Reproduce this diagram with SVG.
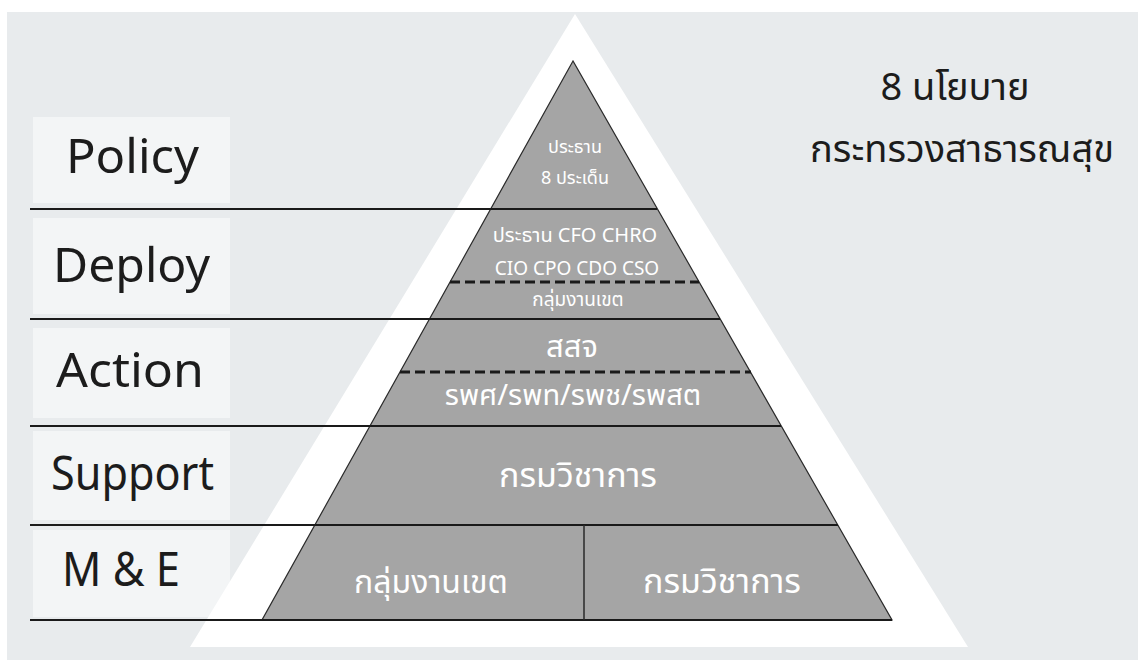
<svg xmlns="http://www.w3.org/2000/svg" width="1138" height="660" viewBox="0 0 1138 660">
<style>
.lbl{font-family:"Noto Sans","Open Sans",sans-serif;font-size:48px;fill:#1c1c1c}
.th{font-family:"Noto Sans Thai","Noto Sans","DejaVu Sans",sans-serif}
.w{fill:#ffffff;text-anchor:middle}
.sep{stroke:#1a1a1a;stroke-width:2;fill:none}
.dash{stroke:#1a1a1a;stroke-width:3;stroke-dasharray:10 5;fill:none}
.box{fill:#f3f5f6}
</style>
<rect x="0" y="0" width="1138" height="660" fill="#ffffff"/>
<rect x="7" y="12" width="1131" height="648" fill="#e8ebed"/>
<g id="labels">
<rect class="box" x="33" y="117" width="197" height="86"/>
<rect class="box" x="33" y="218" width="197" height="96"/>
<rect class="box" x="33" y="328" width="197" height="90"/>
<rect class="box" x="33" y="431" width="197" height="89"/>
<rect class="box" x="33" y="530" width="197" height="87"/>
<text class="lbl" x="66" y="173" textLength="133" lengthAdjust="spacingAndGlyphs">Policy</text>
<text class="lbl" x="53" y="282" textLength="157" lengthAdjust="spacingAndGlyphs">Deploy</text>
<text class="lbl" x="56" y="387" textLength="148" lengthAdjust="spacingAndGlyphs">Action</text>
<text class="lbl" x="51" y="490" textLength="163" lengthAdjust="spacingAndGlyphs">Support</text>
<text class="lbl" x="62" y="586" textLength="118" lengthAdjust="spacingAndGlyphs">M &amp; E</text>
</g>
<polygon id="backdrop" points="575,14 190,647 968,647" fill="#ffffff"/>
<g id="pyramid">
<polygon points="573,61 262,620 892,620" fill="#a5a5a5" stroke="#2a2a2a" stroke-width="1.2"/>
</g>
<g id="connectors">
<line class="sep" x1="30" y1="209" x2="657" y2="209"/>
<line class="sep" x1="30" y1="319" x2="720" y2="319"/>
<line class="sep" x1="30" y1="426" x2="781" y2="426"/>
<line class="sep" x1="30" y1="525" x2="838" y2="525"/>
<line class="sep" x1="30" y1="620" x2="892" y2="620"/>
<line class="dash" x1="450" y1="282" x2="699" y2="282"/>
<line class="dash" x1="400" y1="372" x2="751" y2="372"/>
<line stroke="#2a2a2a" stroke-width="1.5" x1="584" y1="525" x2="584" y2="620"/>
</g>
<g id="policy-tier">
<text class="th w" x="575" y="153" font-size="18">ประธาน</text>
<text class="th w" x="575" y="184" font-size="18">8 ประเด็น</text>
</g>
<g id="deploy-tier">
<text class="th w" x="575" y="242" font-size="20">ประธาน CFO CHRO</text>
<text class="th w" x="577" y="275" font-size="19">CIO CPO CDO CSO</text>
<text class="th w" x="578" y="306" font-size="19">กลุ่มงานเขต</text>
</g>
<g id="action-tier">
<text class="th w" x="572" y="357" font-size="31">สสจ</text>
<text class="th w" x="573" y="405" font-size="29">รพศ/รพท/รพช/รพสต</text>
</g>
<g id="support-tier">
<text class="th w" x="578" y="487" font-size="34">กรมวิชาการ</text>
</g>
<g id="me-tier">
<text class="th w" x="431" y="593" font-size="32">กลุ่มงานเขต</text>
<text class="th w" x="722" y="593" font-size="34">กรมวิชาการ</text>
</g>
<g id="title">
<text class="th" x="955" y="100" font-size="38" text-anchor="middle" fill="#1c1c1c">8 นโยบาย</text>
<text class="th" x="962" y="162" font-size="38" text-anchor="middle" fill="#1c1c1c">กระทรวงสาธารณสุข</text>
</g>
</svg>
